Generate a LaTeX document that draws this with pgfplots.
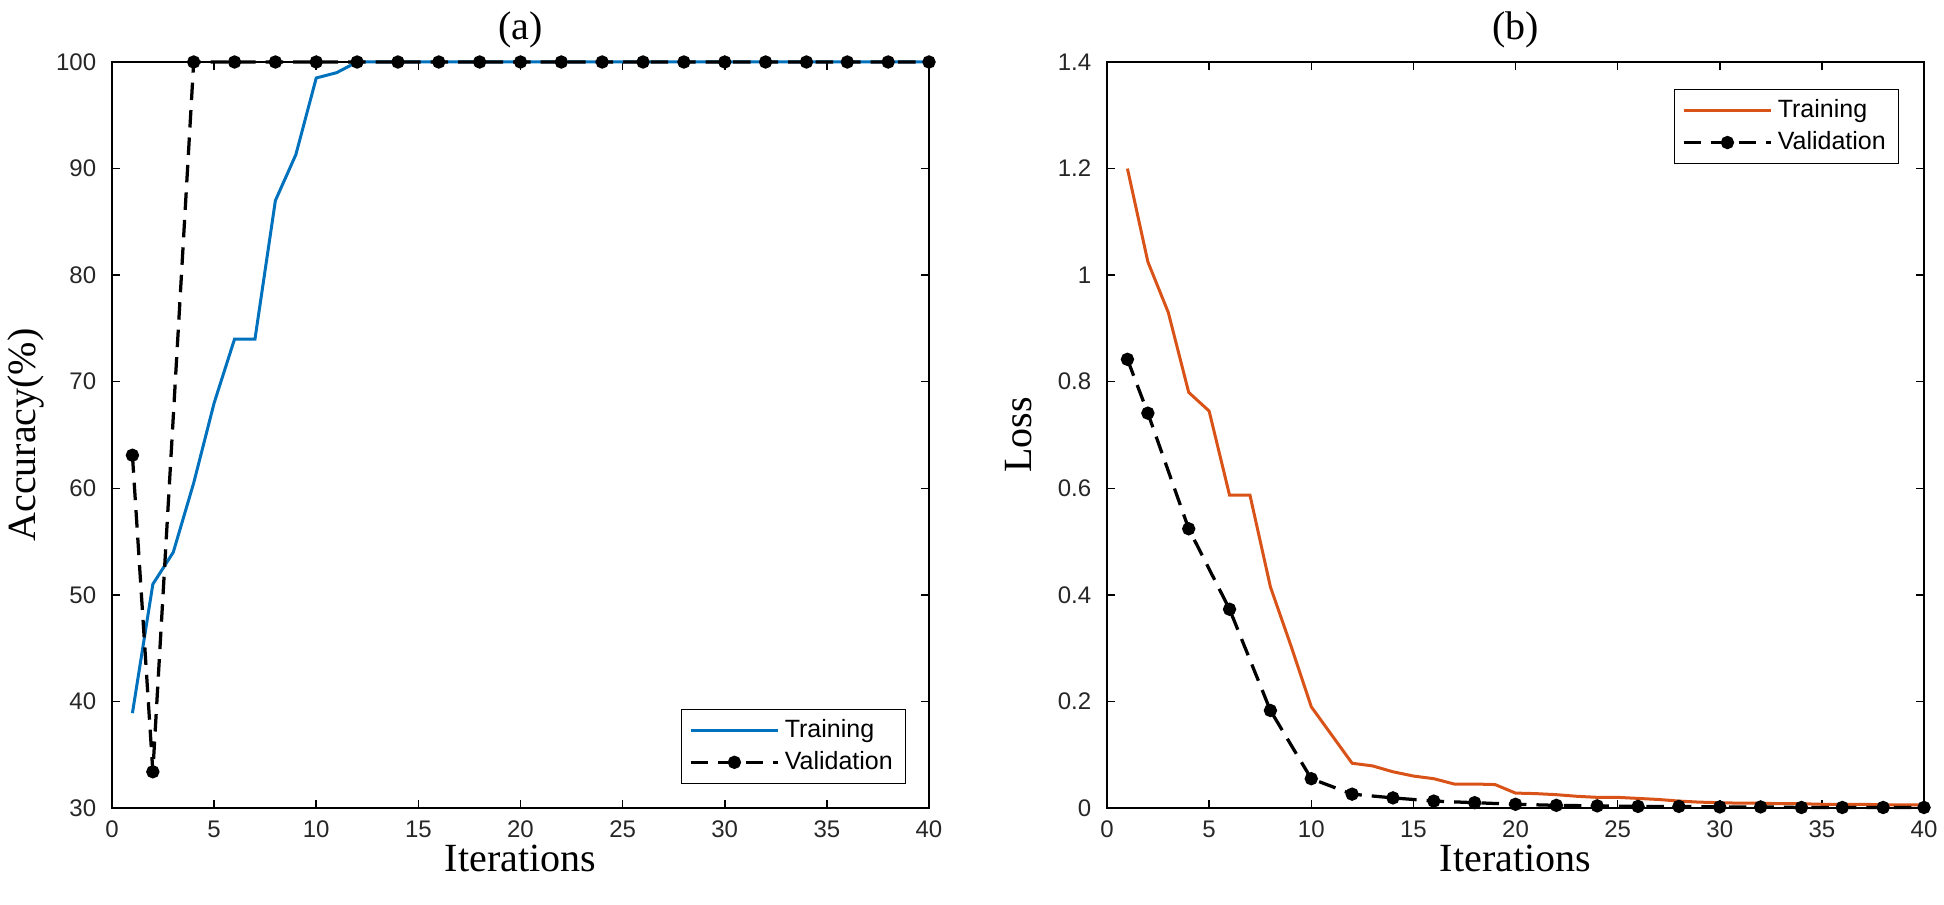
\documentclass[border=0pt]{standalone}
\usepackage{fontspec}
\setmainfont{Liberation Serif}
\newfontfamily\arial{Liberation Sans}
\usepackage{pgfplots}
\pgfplotsset{compat=1.18}
\definecolor{mblue}{rgb}{0,0.447,0.741}
\definecolor{morange}{rgb}{0.85,0.325,0.098}
\definecolor{axgray}{rgb}{0.15,0.15,0.15}
\pgfplotsset{
  every axis title/.style={at={(axis description cs:0.5,1)}, anchor=base, yshift=9pt, font=\fontsize{16}{19}\selectfont},
  myaxis/.style={
    scale only axis, width=326.8pt, height=298.4pt,
    xmin=0, xmax=40, xtick={0,5,...,40},
    tick align=inside, major tick length=3.2pt,
    axis line style={line width=0.6pt, black},
    every tick/.style={black, line width=0.6pt},
    /pgf/number format/assume math mode=true,
    tick label style={font=\arial\fontsize{9.6}{11}\selectfont, text=axgray},
    xticklabel style={yshift=-1.5pt},
    yticklabel style={xshift=-2.8pt},
    label style={font=\fontsize{16}{19}\selectfont},
    xlabel style={at={(axis description cs:0.5,-0.067)}, anchor=center},
    legend style={font=\arial\fontsize{10}{12}\selectfont, draw=black, line width=0.6pt, cells={anchor=west}},
    legend cell align=left,
    legend image code/.code={\draw[mark repeat=2,mark phase=2,#1] plot coordinates {(0pt,0pt) (17.5pt,0pt) (35pt,0pt)};},
    clip=false,
  },
  valstyle/.style={black, line width=1.3pt, dash pattern=on 7pt off 4pt, mark=*, mark size=2pt, mark options={solid, fill=black}},
}
\begin{document}
\begin{tikzpicture}
\useasboundingbox (-44.8pt,-38.4pt) rectangle (732.8pt,323.2pt);
\begin{axis}[myaxis,
  ymin=30, ymax=100, ytick={30,40,...,100},
  title={(a)}, xlabel={Iterations}, ylabel={Accuracy(\%)},
  ylabel style={at={(axis description cs:-0.1053,0.5)}, anchor=center},
  legend style={at={(axis description cs:1,0)}, anchor=south east, xshift=-9.2pt, yshift=9.6pt},
]
\addplot[mblue, line width=1.2pt] coordinates {
(1,38.9) (2,51.0) (3,54.0) (4,60.5) (5,68.0) (6,74.0) (7,74.0) (8,87.0) (9,91.3) (10,98.5)
(11,99.0) (12,100) (13,100) (14,100) (15,100) (16,100) (17,100) (18,100) (19,100) (20,100)
(21,100) (22,100) (23,100) (24,100) (25,100) (26,100) (27,100) (28,100) (29,100) (30,100)
(31,100) (32,100) (33,100) (34,100) (35,100) (36,100) (37,100) (38,100) (39,100) (40,100)};
\addlegendentry{Training}
\addplot[valstyle] coordinates {
(1,63.1) (2,33.4) (4,100) (6,100) (8,100) (10,100) (12,100) (14,100) (16,100) (18,100) (20,100)
(22,100) (24,100) (26,100) (28,100) (30,100) (32,100) (34,100) (36,100) (38,100) (40,100)};
\addlegendentry{Validation}
\end{axis}
\begin{axis}[myaxis, at={(398pt,0pt)},
  ymin=0, ymax=1.4, ytick={0,0.2,...,1.4},
  title={(b)}, xlabel={Iterations}, ylabel={Loss},
  ylabel style={at={(axis description cs:-0.1077,0.5)}, anchor=center},
  legend style={at={(axis description cs:1,1)}, anchor=north east, xshift=-10pt, yshift=-10.8pt},
]
\addplot[morange, line width=1.2pt] coordinates {
(1,1.2) (2,1.025) (3,0.93) (4,0.78) (5,0.745) (6,0.587) (7,0.587) (8,0.415) (9,0.305) (10,0.19)
(11,0.137) (12,0.084) (13,0.079) (14,0.068) (15,0.060) (16,0.055) (17,0.045) (18,0.045) (19,0.044) (20,0.028)
(21,0.027) (22,0.025) (23,0.022) (24,0.020) (25,0.020) (26,0.018) (27,0.016) (28,0.013) (29,0.011) (30,0.010)
(31,0.009) (32,0.009) (33,0.008) (34,0.008) (35,0.007) (36,0.007) (37,0.007) (38,0.006) (39,0.006) (40,0.006)};
\addlegendentry{Training}
\addplot[valstyle] coordinates {
(1,0.842) (2,0.741) (4,0.524) (6,0.373) (8,0.183) (10,0.055) (12,0.026) (14,0.019) (16,0.013) (18,0.010)
(20,0.007) (22,0.005) (24,0.004) (26,0.003) (28,0.003) (30,0.002) (32,0.002) (34,0.001) (36,0.001) (38,0.001) (40,0.001)};
\addlegendentry{Validation}
\end{axis}
\end{tikzpicture}
\end{document}
